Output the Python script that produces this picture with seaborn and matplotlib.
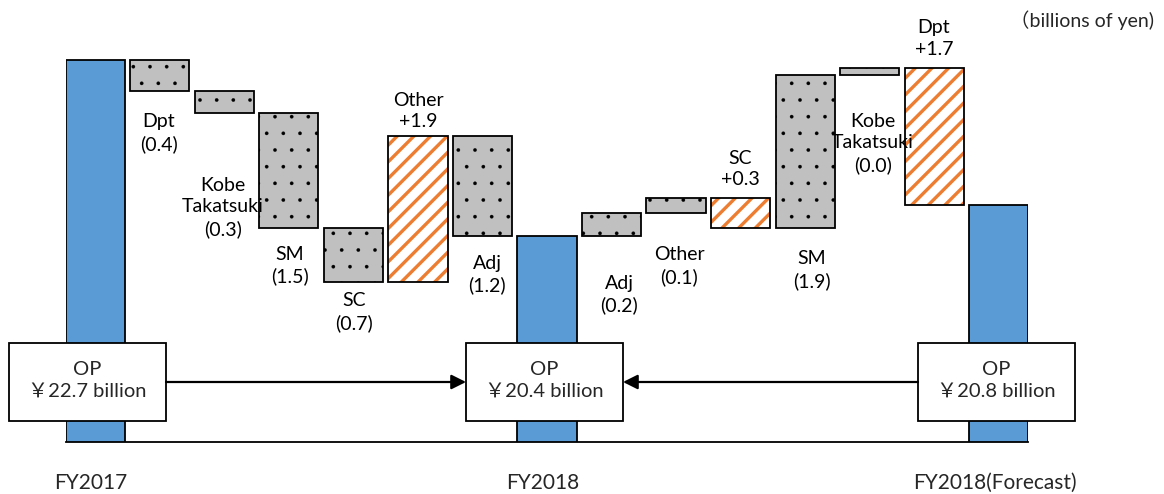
import numpy as np
import pandas as pd
import matplotlib
matplotlib.use("Agg")
import matplotlib.pyplot as plt
import seaborn as sns
from matplotlib.patches import Rectangle, FancyArrowPatch

# ---------------- data ----------------
total_labels = ["FY2017", "FY2018", "FY2018(Forecast)"]
total_values = [22.7, 20.4, 20.8]
box_texts = ["OP\n￥22.7 billion", "OP\n￥20.4 billion", "OP\n￥20.8 billion"]

left_items = ["Dpt", "Kobe\nTakatsuki", "SM", "SC", "Other", "Adj"]
left_deltas = [-0.4, -0.3, -1.5, -0.7, 1.9, -1.3]
left_amounts = ["(0.4)", "(0.3)", "(1.5)", "(0.7)", "+1.9", "(1.2)"]

right_items = ["Adj", "Other", "SC", "SM", "Kobe\nTakatsuki", "Dpt"]
right_deltas = [0.3, 0.2, -0.4, 2.0, 0.1, -1.8]
right_amounts = ["(0.2)", "(0.1)", "+0.3", "(1.9)", "(0.0)", "+1.7"]

unit_text = "（billions of yen)"

# ---------------- style ----------------
sns.set_style("white")
plt.rcParams["font.family"] = ["Lato", "Noto Sans CJK JP", "DejaVu Sans"]

BLUE = "#5B9BD5"
GRAY = "#C0C0C0"
ORANGE = "#ED7D31"
W = 0.915
EDGE_LW = 1.3

W_PX, H_PX = 1164, 494
fig = plt.figure(figsize=(W_PX / 100, H_PX / 100), dpi=100)
ax = fig.add_axes([66 / W_PX, (H_PX - 441.7) / H_PX, 962 / W_PX, 441.7 / H_PX])

def fx(px):
    return px / W_PX

def fy(py):
    return 1 - py / H_PX

# slots: 0 FY2017, 1-6 left items, 7 FY2018, 8-13 right items, 14 forecast
n_slots = 2 + len(left_items) + len(right_items) + 1
slots = [f"s{i}" for i in range(n_slots)]
total_pos = [0, 1 + len(left_items), n_slots - 1]

df_tot = pd.DataFrame({"slot": [slots[p] for p in total_pos],
                       "value": total_values,
                       "label": total_labels})
sns.barplot(data=df_tot, x="slot", y="value", order=slots, color=BLUE,
            saturation=1, edgecolor="black", linewidth=EDGE_LW, width=W, ax=ax)

# floating bars
rows = []
level = total_values[0]
for i, (it, d, a) in enumerate(zip(left_items, left_deltas, left_amounts)):
    rows.append(dict(pos=1 + i, lo=min(level, level + d), hi=max(level, level + d),
                     item=it, amount=a))
    level += d
level = total_values[1]
for i, (it, d, a) in enumerate(zip(right_items, right_deltas, right_amounts)):
    rows.append(dict(pos=total_pos[1] + 1 + i, lo=min(level, level + d),
                     hi=max(level, level + d), item=it, amount=a))
    level += d
df_f = pd.DataFrame(rows)
df_f["up"] = df_f["amount"].str.startswith("+")

def set_hlw(container, lw):
    for p in container:
        if hasattr(p, "set_hatch_linewidth"):
            p.set_hatch_linewidth(lw)

neg = df_f[~df_f["up"]]
pos = df_f[df_f["up"]]
with plt.rc_context({"hatch.linewidth": 0.2}):
    b1 = ax.bar(neg["pos"], neg["hi"] - neg["lo"], bottom=neg["lo"], width=W,
                facecolor=GRAY, edgecolor="black", linewidth=EDGE_LW, hatch=".", zorder=3)
    set_hlw(b1, 0.2)
with plt.rc_context({"hatch.linewidth": 2.4}):
    b2 = ax.bar(pos["pos"], pos["hi"] - pos["lo"], bottom=pos["lo"], width=W,
                facecolor="white", edgecolor=ORANGE, linewidth=0, hatch="//", zorder=3)
    set_hlw(b2, 2.4)
ax.bar(pos["pos"], pos["hi"] - pos["lo"], bottom=pos["lo"], width=W,
       facecolor="none", edgecolor="black", linewidth=EDGE_LW, zorder=4)

ax.set_xlim(-0.457, n_slots - 1 + 0.457)
ax.set_ylim(17.704, 23.485)
ax.set_xlabel("")
ax.set_ylabel("")
ax.set_xticks([])
ax.set_yticks([])
for s in ["left", "right", "top"]:
    ax.spines[s].set_visible(False)
ax.spines["bottom"].set_color("black")
ax.spines["bottom"].set_linewidth(1.3)
ax.patch.set_alpha(0)

# ---------------- annotations (layout in pixels) ----------------
FS = 14
label_xy = [(159, 133), (223, 207.5), (290, 265.5), (354, 312), (418, 111), (487, 274.5),
            (619, 294.5), (679, 266), (740, 169), (812, 270), (873, 143.5), (934, 38.5)]
for (x, y), (_, r) in zip(label_xy, df_f.iterrows()):
    fig.text(fx(x), fy(y), f"{r['item']}\n{r['amount']}", ha="center", va="center",
             fontsize=FS, linespacing=1.3, color="black")

box_cx = [87, 544.5, 996.5]
for cx, t in zip(box_cx, box_texts):
    fig.add_artist(Rectangle((fx(cx - 78.5), fy(421)), 157 / W_PX, 78 / H_PX,
                             transform=fig.transFigure, facecolor="white",
                             edgecolor="black", linewidth=1.3, zorder=5))
    fig.text(fx(cx), fy(380), t, ha="center", va="center", fontsize=14.5,
             linespacing=1.3, zorder=6)

for x0, x1 in [(166, 466), (918, 623)]:
    fig.add_artist(FancyArrowPatch((fx(x0), fy(382)), (fx(x1), fy(382)),
                                   transform=fig.transFigure, arrowstyle="-|>",
                                   mutation_scale=22, linewidth=1.6, color="black",
                                   shrinkA=0, shrinkB=0, zorder=6))

for cx, t in zip([91, 543, 995], total_labels):
    fig.text(fx(cx), fy(483), t, ha="center", va="center", fontsize=15)

fig.text(fx(1154), fy(20), unit_text, ha="right", va="center", fontsize=14)

fig.savefig("out.png", dpi=100)
